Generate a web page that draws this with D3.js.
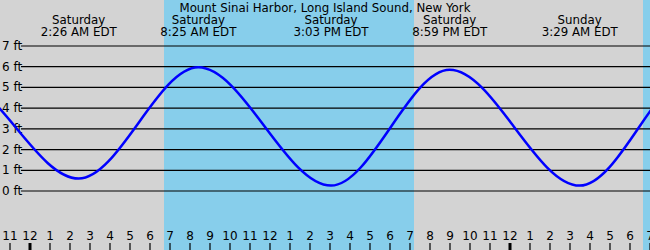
<!DOCTYPE html>
<html>
<head>
<script src="https://cdn.jsdelivr.net/npm/d3@7"></script>
<style>
  body { margin: 0; }
  svg { display: block; font-family: "DejaVu Sans", sans-serif; }
</style>
</head>
<body>
<svg id="chart" width="650" height="250"></svg>
<script>
// tide extremes (the outer ones lie outside the window so the curve reaches the edges)
var tideTimes = ["2024-01-05T13:55", "2024-01-05T20:10", "2024-01-06T02:26", "2024-01-06T08:25",
                 "2024-01-06T15:03", "2024-01-06T20:59", "2024-01-07T03:29", "2024-01-07T09:25",
                 "2024-01-07T15:55"];
var tideHeights = [0.5, 5.5, 0.6, 5.97, 0.26, 5.85, 0.26, 5.9, 0.3];
var labelDays = ["", "", "Saturday", "Saturday", "Saturday", "Saturday", "Sunday", "", ""];
var labelTimes = ["", "", "2:26 AM EDT", "8:25 AM EDT", "3:03 PM EDT", "8:59 PM EDT", "3:29 AM EDT", "", ""];

// daylight periods
var dayStart = ["2024-01-06T06:42", "2024-01-07T06:39"];
var dayEnd = ["2024-01-06T19:12", "2024-01-07T12:00"];

var footTicks = [0, 1, 2, 3, 4, 5, 6, 7];
var title = "Mount Sinai Harbor, Long Island Sound, New York";

var W = 650, H = 250;
var parse = d3.timeParse("%Y-%m-%dT%H:%M");

var x = d3.scaleTime()
    .domain([parse("2024-01-05T22:30"), parse("2024-01-07T07:00")])
    .range([0, W]);
var y = d3.scaleLinear().domain([0, 7]).range([191, 46]);

var svg = d3.select("#chart");

svg.append("rect").attr("width", W).attr("height", H).attr("fill", "#d3d3d3");

svg.selectAll("rect.day")
    .data(dayStart)
    .enter().append("rect")
    .attr("class", "day")
    .attr("x", function(d) { return x(parse(d)); })
    .attr("y", 0)
    .attr("width", function(d, i) { return x(parse(dayEnd[i])) - x(parse(d)); })
    .attr("height", H)
    .attr("fill", "#87ceeb");

// horizontal foot lines
svg.selectAll("line.grid")
    .data(footTicks)
    .enter().append("line")
    .attr("x1", 21).attr("x2", W)
    .attr("y1", function(d) { return y(d); })
    .attr("y2", function(d) { return y(d); })
    .attr("stroke", "black").attr("stroke-width", 1.2);

svg.selectAll("text.ft")
    .data(footTicks)
    .enter().append("text")
    .attr("x", 2)
    .attr("y", function(d) { return y(d) + 4; })
    .attr("font-size", 12)
    .text(function(d) { return d + " ft"; });

// tide curve
var pts = tideTimes.map(function(t, i) { return [parse(t), tideHeights[i]]; });
var line = d3.line()
    .x(function(d) { return x(d[0]); })
    .y(function(d) { return y(d[1]); })
    .curve(d3.curveMonotoneX);

svg.append("clipPath").attr("id", "clip")
    .append("rect").attr("width", W).attr("height", H);

svg.append("path")
    .datum(pts)
    .attr("clip-path", "url(#clip)")
    .attr("d", line)
    .attr("fill", "none")
    .attr("stroke", "#0000ff")
    .attr("stroke-width", 2.5);

// hour ticks along the bottom
var hours = x.ticks(d3.timeHour.every(1));
svg.selectAll("line.hour")
    .data(hours)
    .enter().append("line")
    .attr("x1", function(d) { return x(d); })
    .attr("x2", function(d) { return x(d); })
    .attr("y1", 243).attr("y2", H)
    .attr("stroke", "black")
    .attr("stroke-width", function(d) { return d.getHours() === 0 ? 3 : 1.2; });

svg.selectAll("text.hour")
    .data(hours)
    .enter().append("text")
    .attr("x", function(d) { return x(d); })
    .attr("y", 240)
    .attr("text-anchor", "middle")
    .attr("font-size", 12)
    .text(function(d) { var h = d.getHours() % 12; return h === 0 ? 12 : h; });

// extreme labels
var lab = svg.selectAll("g.lab")
    .data(tideTimes.filter(function(d, i) { return labelDays[i] !== ""; }))
    .enter().append("g")
    .attr("transform", function(d) { return "translate(" + x(parse(d)) + ",0)"; });
lab.append("text")
    .attr("y", 24).attr("text-anchor", "middle").attr("font-size", 11.8)
    .text(function(d) { return labelDays[tideTimes.indexOf(d)]; });
lab.append("text")
    .attr("y", 36).attr("text-anchor", "middle").attr("font-size", 11.8)
    .text(function(d) { return labelTimes[tideTimes.indexOf(d)]; });

svg.append("text")
    .attr("x", 325).attr("y", 12)
    .attr("text-anchor", "middle").attr("font-size", 11.8)
    .text(title);
</script>
</body>
</html>
